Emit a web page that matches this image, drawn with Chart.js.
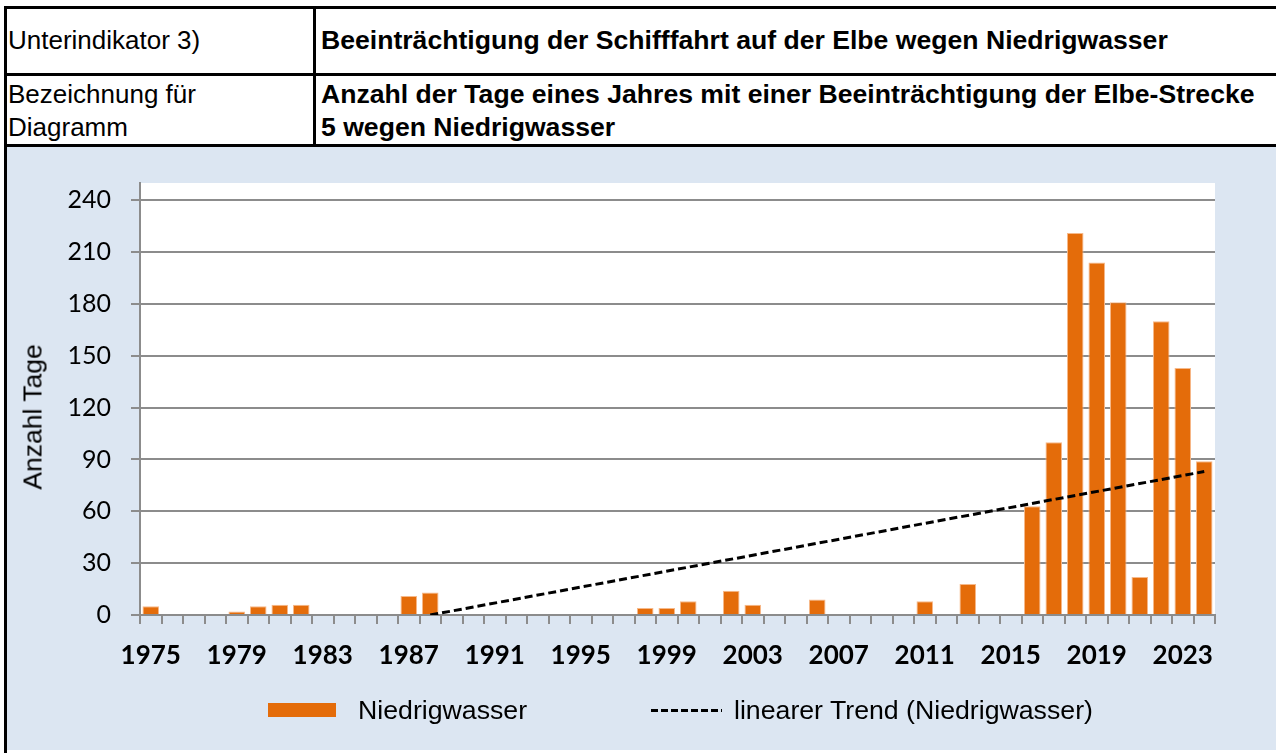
<!DOCTYPE html>
<html>
<head>
<meta charset="utf-8">
<script src="https://cdn.jsdelivr.net/npm/chart.js@4.4.1/dist/chart.umd.min.js"></script>
<style>
  html, body { margin: 0; padding: 0; background: #fff; width: 1276px; height: 753px; overflow: hidden; }
  .abs { position: absolute; }
  .line { position: absolute; background: #000; }
  .txt { position: absolute; font-family: "Liberation Sans", Arial, sans-serif; font-size: 26px; color: #000; white-space: nowrap; line-height: 33px; }
  .bold { font-weight: bold; font-size: 26.6px; }
  #panel { position: absolute; left: 7px; top: 147px; width: 1269px; height: 603px; background: #DCE6F2; }
  #wrap { position: absolute; left: 7px; top: 147px; width: 1269px; height: 603px; }
</style>
</head>
<body>
<!-- table frame -->
<div class="line" style="left:4px; top:6px; width:1272px; height:3px;"></div>
<div class="line" style="left:4px; top:73px; width:1272px; height:3px;"></div>
<div class="line" style="left:4px; top:144px; width:1272px; height:3px;"></div>
<div class="line" style="left:4px; top:6px; width:3px; height:747px;"></div>
<div class="line" style="left:313px; top:6px; width:3px; height:141px;"></div>

<div class="txt" style="left:8px; top:24px;">Unterindikator 3)</div>
<div class="txt bold" style="left:321px; top:24px;">Beeinträchtigung der Schifffahrt auf der Elbe wegen Niedrigwasser</div>
<div class="txt" style="left:8px; top:78px;">Bezeichnung für<br>Diagramm</div>
<div class="txt bold" style="left:321px; top:78px;">Anzahl der Tage eines Jahres mit einer Beeinträchtigung der Elbe-Strecke<br>5 wegen Niedrigwasser</div>

<div id="panel"></div>
<div id="wrap"><canvas id="c" width="1269" height="603"></canvas></div>

<!-- axis title -->
<div class="txt" style="left:33px; top:417px; font-size:26.5px; transform: translate(-50%,-50%) rotate(-90deg);">Anzahl Tage</div>

<!-- legend -->
<div class="abs" style="left:268px; top:703px; width:68px; height:14px; background:#E46C0A;"></div>
<div class="txt" style="left:358px; top:694px; font-size:26.7px;">Niedrigwasser</div>
<div class="abs" style="left:651px; top:709px; width:71px; height:3px; background: repeating-linear-gradient(90deg, #000 0 7px, transparent 7px 10px);"></div>
<div class="txt" style="left:734px; top:694px; font-size:26.7px;">linearer Trend (Niedrigwasser)</div>

<script>
const years = [];
for (let y = 1975; y <= 2024; y++) years.push(String(y));

const niedrigwasser = [
  5, 0, 0, 0, 2, 5, 6, 6, 0, 0,      // 1975-1984
  0, 0, 11, 13, 0, 0, 0, 0, 0, 0,    // 1985-1994
  0, 0, 0, 4, 4, 8, 0, 14, 6, 0,     // 1995-2004
  0, 9, 0, 0, 0, 0, 8, 0, 18, 0,     // 2005-2014
  0, 63, 100, 221, 204, 181, 22, 170, 143, 89 // 2015-2024
];

// linear trend line: starts at 0 in 1988, ends near 83 in 2024
const trendYears = ["1988", "2024"];
const trendValues = [0, 83];
const trend = years.map(y => {
  const i = trendYears.indexOf(y);
  return i >= 0 ? trendValues[i] : null;
});

const yTicks = [0, 30, 60, 90, 120, 150, 180, 210, 240];

const whiteArea = {
  id: 'whiteArea',
  beforeDraw(chart) {
    const { ctx, chartArea: a } = chart;
    ctx.save();
    ctx.fillStyle = '#ffffff';
    ctx.fillRect(a.left, a.top, a.right - a.left, a.bottom - a.top);
    ctx.restore();
  }
};

const gridColor = '#8c8c8c';

new Chart(document.getElementById('c'), {
  data: {
    labels: years,
    datasets: [
      {
        type: 'line',
        label: 'linearer Trend (Niedrigwasser)',
        data: trend,
        spanGaps: true,
        borderColor: '#000',
        borderWidth: 3,
        borderDash: [8, 4],
        pointRadius: 0,
        fill: false,
        order: 0
      },
      {
        type: 'bar',
        label: 'Niedrigwasser',
        data: niedrigwasser,
        backgroundColor: '#E46C0A',
        borderColor: '#F6B98A',
        borderWidth: { top: 1, left: 1, right: 1, bottom: 0 },
        categoryPercentage: 1,
        barPercentage: 0.77,
        order: 1
      }
    ]
  },
  options: {
    responsive: false,
    animation: false,
    layout: { padding: { left: 0, top: 36, right: 61, bottom: 75 } },
    plugins: {
      legend: { display: false },
      tooltip: { enabled: false }
    },
    scales: {
      x: {
        type: 'category',
        offset: true,
        grid: {
          offset: true,
          drawOnChartArea: false,
          drawTicks: true,
          tickLength: 9,
          color: gridColor,
          lineWidth: 2
        },
        border: { color: gridColor, width: 2 },
        ticks: {
          autoSkip: false,
          maxRotation: 0,
          padding: 16,
          color: '#000',
          font: { family: 'Lato', size: 26, weight: 'bold' },
          callback: function (val, idx) { return idx % 4 === 0 ? this.getLabelForValue(val) : ''; }
        },
        afterFit(s) { s.height = 60; }
      },
      y: {
        min: 0,
        max: 250,
        afterBuildTicks(s) { s.ticks = yTicks.map(v => ({ value: v })); },
        grid: {
          color: gridColor,
          lineWidth: 2,
          tickLength: 9,
          drawTicks: true
        },
        border: { color: gridColor, width: 2 },
        ticks: {
          padding: 20,
          color: '#000',
          font: { family: 'Lato', size: 25 }
        },
        afterFit(s) { s.width = 133; }
      }
    }
  },
  plugins: [whiteArea]
});
</script>
</body>
</html>
